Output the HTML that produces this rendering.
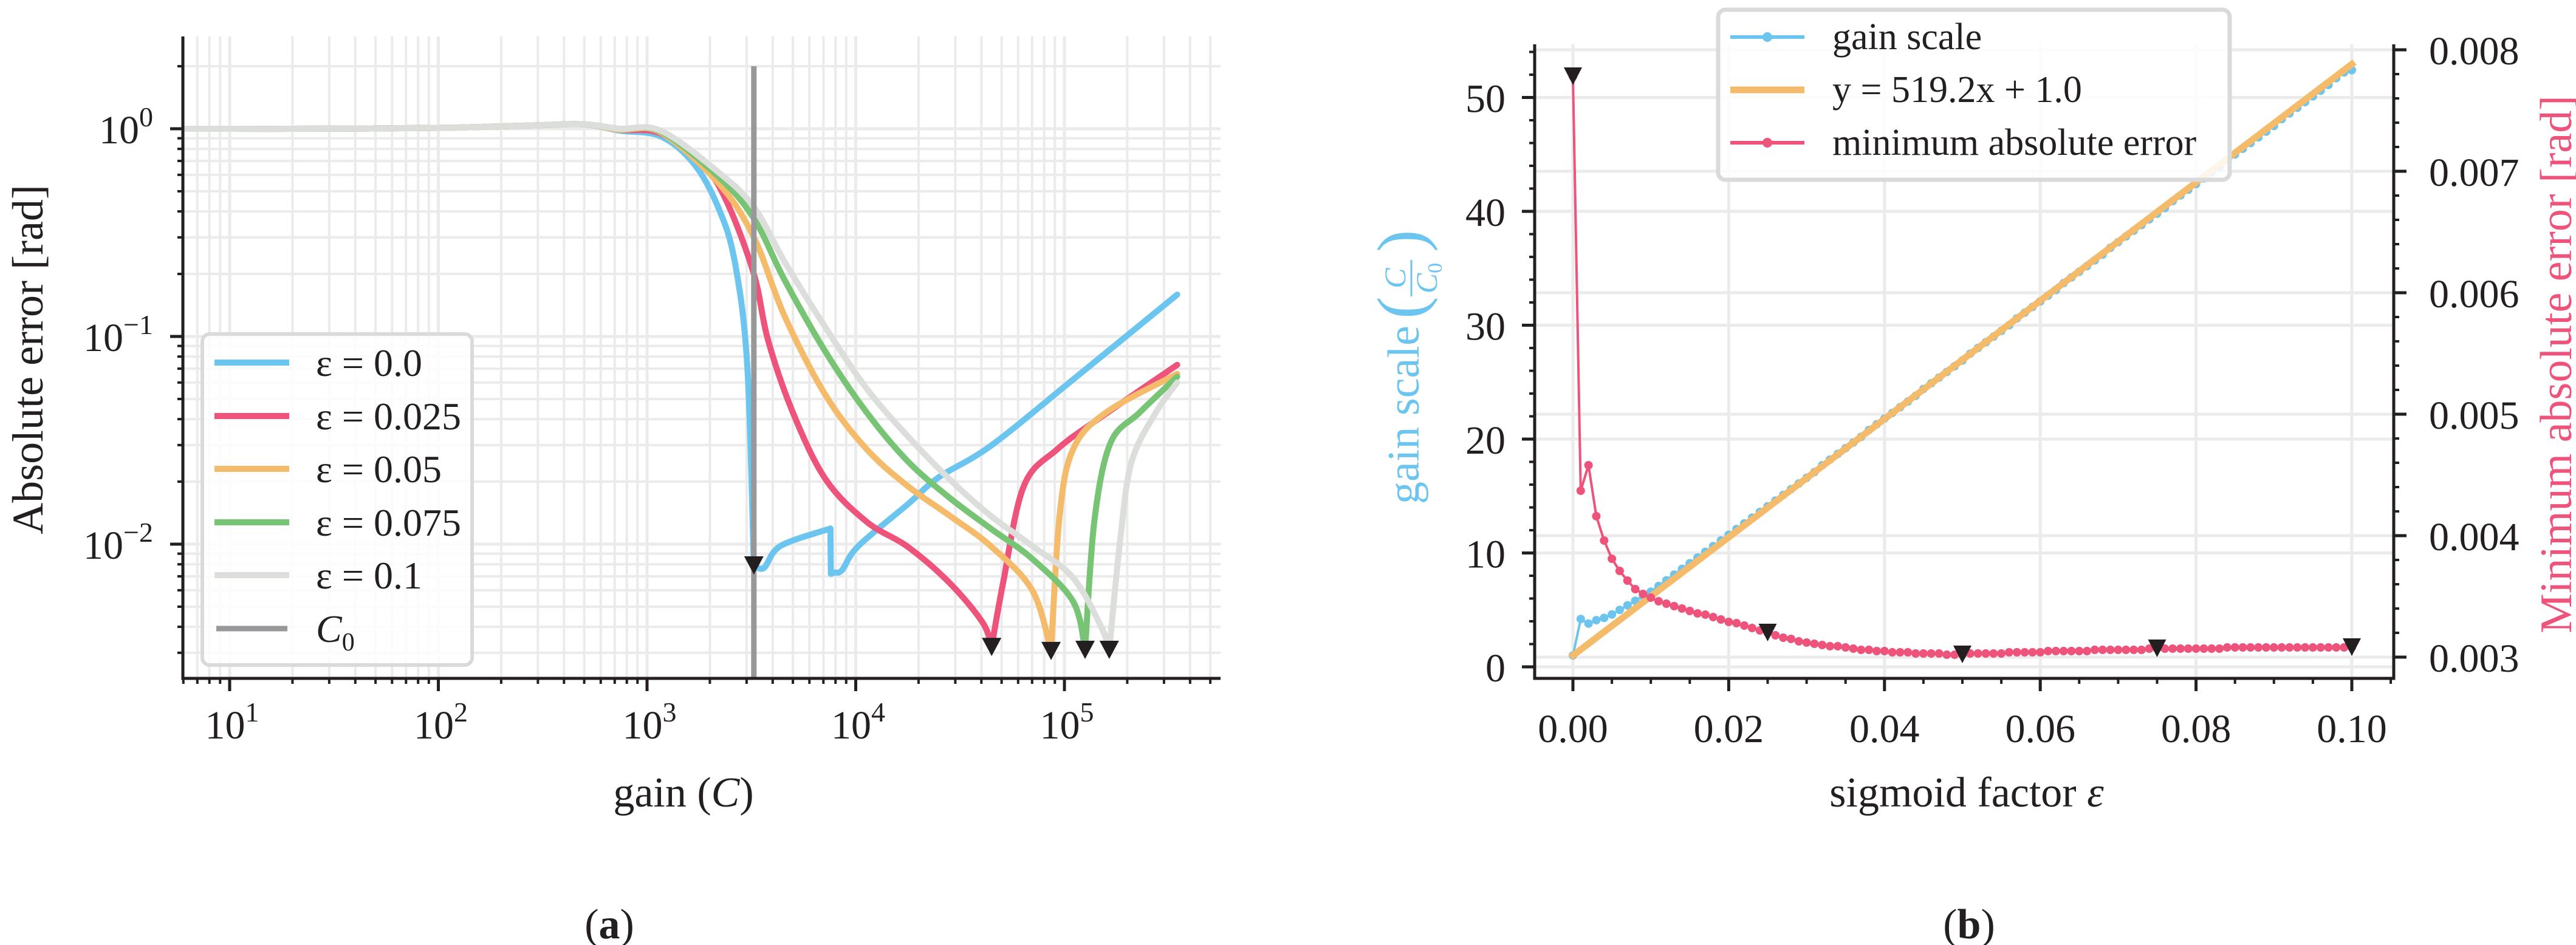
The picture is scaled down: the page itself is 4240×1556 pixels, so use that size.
<!DOCTYPE html>
<html><head><meta charset="utf-8"><style>
html,body{margin:0;padding:0;background:#fff;}
svg{display:block;font-family:"Liberation Serif",serif;}
</style></head><body>
<svg id="fig" width="4240" height="1556" viewBox="0 0 4240 1556" xmlns="http://www.w3.org/2000/svg">
<defs>
<clipPath id="clipL"><rect x="301" y="60" width="1708" height="1057"/></clipPath>
<clipPath id="clipR"><rect x="2526" y="73" width="1414" height="1044"/></clipPath>
</defs>
<g id="panelA"></g>
<g id="panelB"></g>
</svg>
<script>
// ---------- Panel (a) data ----------
const gainEps0 = [6,20,100,300,500,735,1160,1675,2190,2630,3020,3250,3251,3640,4360,7560,7600,7900,8600,10300,17800,25000,44300,110000,347000];
const errEps0  = [1.0,1.0,1.01,1.04,1.05,0.98,0.92,0.68,0.42,0.23,0.073,0.0079,0.0079,0.0077,0.0098,0.0119,0.0072,0.0073,0.0075,0.0098,0.0156,0.021,0.0297,0.062,0.159];
const gainEps025 = [6,20,100,300,500,735,1160,1830,2400,3250,3800,5000,7180,11300,17800,28200,40500,44800,50800,63800,92200,145000,347000];
const errEps025  = [1.0,1.0,1.01,1.04,1.05,0.99,0.95,0.68,0.45,0.2,0.096,0.043,0.0205,0.0128,0.0097,0.0065,0.0042,0.0032,0.0065,0.019,0.0286,0.040,0.073];
const gainEps05 = [6,20,100,300,500,735,1160,2190,3250,4550,7180,11300,17800,28200,44300,70100,86300,94800,110000,158000,347000];
const errEps05  = [1.0,1.0,1.01,1.04,1.05,0.99,0.96,0.55,0.30,0.126,0.052,0.0286,0.019,0.0137,0.0098,0.006,0.00306,0.0137,0.0286,0.043,0.066];
const gainEps075 = [6,20,100,300,500,735,1160,2190,3250,4550,7180,11300,17800,28200,44300,70100,110000,125600,139000,166000,229000,347000];
const errEps075  = [1.0,1.0,1.01,1.04,1.05,1.0,0.97,0.59,0.37,0.188,0.084,0.043,0.025,0.0167,0.0119,0.0085,0.0053,0.0031,0.0128,0.0306,0.043,0.064];
const gainEps1 = [6,20,100,300,500,735,1160,2190,3250,4550,7180,11300,17800,28200,44300,70100,110000,150000,164000,186000,210000,274000,347000];
const errEps1  = [1.0,1.0,1.01,1.04,1.05,1.0,0.98,0.62,0.42,0.23,0.11,0.056,0.033,0.0205,0.0137,0.0098,0.0069,0.0040,0.0031,0.011,0.025,0.043,0.06];
const breaksEps0 = [11,12,15,16];
const breaksEps025 = [17];
const breaksEps05 = [16];
const breaksEps075 = [17];
const breaksEps1 = [18];
const minGainA = [3250,44800,86300,125600,164000];
const minErrA  = [0.0079,0.0032,0.00306,0.0031,0.0031];
const c0Gain = 3250;
const c0Top = 2.0;
const legendLabelsA = ["ε = 0.0","ε = 0.025","ε = 0.05","ε = 0.075","ε = 0.1"];
const xTickExpA = [1,2,3,4,5];
const yTickExpA = [0,-1,-2];

// ---------- Panel (b) data ----------
const epsValues = [];
for (let i = 0; i <= 100; i++) epsValues.push(i/1000);
const gainScale = [1.0,4.2,3.8,4.1,4.3,4.6,5.0,5.4,5.8,6.2,6.6,7.1,7.6,8.1,8.6,9.1,9.6,10.1,10.6,11.1,11.6,12.1,12.6,13.1,13.6,14.1,14.6,15.1,15.6,16.1,16.6,17.1,17.7,18.2,18.7,19.2,19.7,20.2,20.8,21.3,21.8,22.3,22.8,23.3,23.8,24.4,24.9,25.4,25.9,26.4,26.9,27.5,28.0,28.5,29.0,29.5,30.0,30.6,31.1,31.6,32.1,32.6,33.1,33.7,34.2,34.7,35.2,35.7,36.2,36.8,37.3,37.8,38.3,38.8,39.3,39.8,40.3,40.9,41.4,41.9,42.4,42.9,43.4,43.9,44.5,45.0,45.5,46.0,46.5,47.0,47.5,48.1,48.6,49.1,49.6,50.1,50.6,51.1,51.7,52.2,52.4];
const minAbsErr = [0.00778,0.00437,0.00458,0.00416,0.00396,0.00381,0.00371,0.00363,0.00356,0.00352,0.00349,0.00346,0.00344,0.00342,0.00340,0.00338,0.00336,0.00335,0.00333,0.00331,0.00329,0.00328,0.00326,0.00324,0.00322,0.00320,0.00318,0.00316,0.00315,0.00313,0.00312,0.00311,0.00310,0.00309,0.00309,0.00308,0.00307,0.00306,0.00306,0.00305,0.00305,0.00304,0.00304,0.00304,0.00303,0.00303,0.00303,0.00303,0.00302,0.00302,0.00302,0.00303,0.00303,0.00303,0.00303,0.00303,0.00304,0.00304,0.00304,0.00304,0.00304,0.00305,0.00305,0.00305,0.00305,0.00305,0.00305,0.00306,0.00306,0.00306,0.00306,0.00306,0.00306,0.00306,0.00307,0.00307,0.00307,0.00307,0.00307,0.00307,0.00307,0.00307,0.00307,0.00307,0.00308,0.00308,0.00308,0.00308,0.00308,0.00308,0.00308,0.00308,0.00308,0.00308,0.00308,0.00308,0.00308,0.00308,0.00308,0.00308,0.00308];
const fitSlope = 519.2;
const fitIntercept = 1.0;
const markerEpsB = [0,0.025,0.05,0.075,0.1];
const markerErrB = [0.00778,0.00320,0.00302,0.00307,0.00308];
const xTicksB = [0,0.02,0.04,0.06,0.08,0.10];
const yTicksLeftB = [0,10,20,30,40,50];
const yTicksRightB = [0.003,0.004,0.005,0.006,0.007,0.008];

const NS = "http://www.w3.org/2000/svg";
function mk(tag, attrs, parent){ const e=document.createElementNS(NS,tag); for(const k in attrs) e.setAttribute(k,attrs[k]); parent.appendChild(e); return e; }

function smoothPath(pts, breaks){
  // split into segments at break indices, Catmull-Rom within each
  const segs=[]; let start=0;
  const bs=[...breaks].sort((a,b)=>a-b);
  for (const b of bs){ segs.push(pts.slice(start,b+1)); start=b; }
  segs.push(pts.slice(start));
  let d='';
  segs.forEach((s,si)=>{
    if (s.length<2) return;
    d += (si===0?'M':'L')+s[0][0].toFixed(1)+','+s[0][1].toFixed(1);
    for (let i=0;i<s.length-1;i++){
      const p0=s[i-1]||s[i], p1=s[i], p2=s[i+1], p3=s[i+2]||s[i+1];
      const t=1/6;
      const c1=[p1[0]+(p2[0]-p0[0])*t, p1[1]+(p2[1]-p0[1])*t];
      const c2=[p2[0]-(p3[0]-p1[0])*t, p2[1]-(p3[1]-p1[1])*t];
      d+=`C${c1[0].toFixed(1)},${c1[1].toFixed(1)} ${c2[0].toFixed(1)},${c2[1].toFixed(1)} ${p2[0].toFixed(1)},${p2[1].toFixed(1)}`;
    }
  });
  return d;
}

const COL = {blue:"#6cc5ef", red:"#ee537b", orange:"#f4bb6b", green:"#78c475", gray:"#dcdedb", c0:"#98989a", grid:"#ebebeb", ink:"#231f20"};

// ========== Panel A ==========
const A = document.getElementById('panelA');
const lx = g => 378 + (Math.log10(g)-1)*343.5;
const ly = v => 212 - Math.log10(v)*342;
const AL=301, AR=2009, AT=60, AB=1117;

const gridA = mk('g',{},A);


for (let d=0; d<=5; d++) for (let m=1; m<=9; m++){
  const g = m*Math.pow(10,d); const x = lx(g);
  if (x<AL||x>AR) continue;
  mk('line',{x1:x,x2:x,y1:AT,y2:AB,stroke:COL.grid,'stroke-width':m===1?5:4},gridA);
}
for (let d=-3; d<=0; d++) for (let m=1; m<=9; m++){
  const v = m*Math.pow(10,d); const y = ly(v);
  if (y<AT||y>AB) continue;
  mk('line',{x1:AL,x2:AR,y1:y,y2:y,stroke:COL.grid,'stroke-width':m===1?5:4},gridA);
}

const curvesA = [
  [gainEps0,errEps0,breaksEps0,COL.blue,'curve-eps-0'],
  [gainEps025,errEps025,breaksEps025,COL.red,'curve-eps-0025'],
  [gainEps05,errEps05,breaksEps05,COL.orange,'curve-eps-005'],
  [gainEps075,errEps075,breaksEps075,COL.green,'curve-eps-0075'],
  [gainEps1,errEps1,breaksEps1,COL.gray,'curve-eps-01'],
];
const plotA = mk('g',{'clip-path':'url(#clipL)'},A);
for (const [gs,es,br,c,n] of curvesA){
  const pts = gs.map((g,i)=>[lx(g),ly(es[i])]);
  const pl = mk('path',{d:smoothPath(pts,br),fill:'none',stroke:c,'stroke-width':10,'stroke-linejoin':'round','stroke-linecap':'round'},plotA);
  
  
}
const c0 = mk('line',{x1:lx(c0Gain),x2:lx(c0Gain),y1:ly(c0Top),y2:AB,stroke:COL.c0,'stroke-width':9},plotA);


minGainA.forEach((g,i)=>{
  const x=lx(g), y=ly(minErrA[i]);
  const t = mk('polygon',{points:`${x-16},${y-15} ${x+16},${y-15} ${x},${y+15}`,fill:COL.ink},plotA);
  
  
});

const spA = mk('g',{stroke:COL.ink,'stroke-width':5,fill:'none'},A);


mk('line',{x1:AL,x2:AL,y1:AT,y2:AB+2.5},spA);
mk('line',{x1:AL-2.5,x2:AR,y1:AB,y2:AB},spA);
for (let d=0; d<=5; d++) for (let m=1; m<=9; m++){
  const x = lx(m*Math.pow(10,d));
  if (x<AL||x>AR) continue;
  mk('line',{x1:x,x2:x,y1:AB,y2:AB+(m===1?21:9),'stroke-width':m===1?5:4},spA);
}
for (let d=-3; d<=0; d++) for (let m=1; m<=9; m++){
  const y = ly(m*Math.pow(10,d));
  if (y<AT||y>AB) continue;
  mk('line',{x1:AL,x2:AL-(m===1?21:9),y1:y,y2:y,'stroke-width':m===1?5:4},spA);
}
xTickExpA.forEach(e=>{
  const t = mk('text',{x:lx(Math.pow(10,e))+4,y:1216,'font-size':66,'text-anchor':'middle',fill:COL.ink},A);
  
  
  t.appendChild(document.createTextNode('10'));
  const s = mk('tspan',{'font-size':46,dy:-28},t); s.textContent=String(e);
});
yTickExpA.forEach(e=>{
  const t = mk('text',{x:252,y:ly(Math.pow(10,e))+24,'font-size':66,'text-anchor':'end',fill:COL.ink},A);
  
  
  t.appendChild(document.createTextNode('10'));
  const s = mk('tspan',{'font-size':46,dy:-28},t); s.textContent=(e<0?'−':'')+Math.abs(e);
});
let tt = mk('text',{x:1125,y:1328,'font-size':70,'text-anchor':'middle',fill:COL.ink},A);


tt.innerHTML='gain (<tspan font-style="italic">C</tspan>)';
tt = mk('text',{x:0,y:0,'font-size':72,'text-anchor':'middle',fill:COL.ink,transform:'translate(70,592) rotate(-90)'},A);


tt.textContent='Absolute error [rad]';
tt = mk('text',{x:1003,y:1545,'font-size':70,'text-anchor':'middle',fill:COL.ink},A);


tt.innerHTML='(<tspan font-weight="bold">a</tspan>)';

const lgA = mk('g',{},A);


mk('rect',{x:333,y:550,width:444,height:545,rx:12,fill:'#fff','fill-opacity':0.85,stroke:'#d9dadb','stroke-width':6},lgA);
const legColsA=[COL.blue,COL.red,COL.orange,COL.green,COL.gray];
const legY=[597,685,772,860,947,1035];
legendLabelsA.forEach((lab,i)=>{
  const g = mk('g',{},lgA);
  
  
  mk('line',{x1:353,x2:476,y1:legY[i],y2:legY[i],stroke:legColsA[i],'stroke-width':10},g);
  const t=mk('text',{x:520,y:legY[i]+22,'font-size':64,fill:COL.ink},g); t.textContent=lab;
});
{
  const g = mk('g',{},lgA);
  
  
  mk('line',{x1:356,x2:473,y1:legY[5],y2:legY[5],stroke:COL.c0,'stroke-width':9},g);
  const t=mk('text',{x:520,y:legY[5]+22,'font-size':64,fill:COL.ink},g);
  t.innerHTML='<tspan font-style="italic">C</tspan><tspan font-size="42" dy="14">0</tspan>';
}

// ========== Panel B ==========
const B = document.getElementById('panelB');
const rx = e => 2589 + e*12820;
const ryL = v => 1098 - v*18.75;
const ryR = v => 1082 - (v-0.003)*200000;
const BL=2526, BR=3940, BT=73, BB=1117;

const gridB = mk('g',{stroke:COL.grid,'stroke-width':5},B);


xTicksB.forEach(v=>mk('line',{x1:rx(v),x2:rx(v),y1:BT,y2:BB},gridB));
yTicksLeftB.forEach(v=>mk('line',{x1:BL,x2:BR,y1:ryL(v),y2:ryL(v)},gridB));
yTicksRightB.forEach(v=>mk('line',{x1:BL,x2:BR,y1:ryR(v),y2:ryR(v)},gridB));

const plotB = mk('g',{'clip-path':'url(#clipR)'},B);
{
  const pts = epsValues.map((e,i)=>rx(e).toFixed(1)+','+ryL(gainScale[i]).toFixed(1)).join(' ');
  const pl = mk('polyline',{points:pts,fill:'none',stroke:COL.blue,'stroke-width':4},plotB);
  
  
  epsValues.forEach((e,i)=>{
    const c = mk('circle',{cx:rx(e),cy:ryL(gainScale[i]),r:7,fill:COL.blue},plotB);
    
    
  });
}
{
  const x0=epsValues[0], x1=epsValues[epsValues.length-1];
  const l = mk('line',{x1:rx(x0),y1:ryL(fitSlope*x0+fitIntercept),x2:rx(x1),y2:ryL(fitSlope*x1+fitIntercept),stroke:COL.orange,'stroke-width':11,'stroke-linecap':'square'},plotB);
  
  
}
{
  const pts = epsValues.map((e,i)=>rx(e).toFixed(1)+','+ryR(minAbsErr[i]).toFixed(1)).join(' ');
  const pl = mk('polyline',{points:pts,fill:'none',stroke:COL.red,'stroke-width':4},plotB);
  
  
  epsValues.forEach((e,i)=>{
    const c = mk('circle',{cx:rx(e),cy:ryR(minAbsErr[i]),r:7,fill:COL.red},plotB);
    
    
  });
  markerEpsB.forEach((e,i)=>{
    const x=rx(e), y=ryR(markerErrB[i]);
    const t = mk('polygon',{points:`${x-15},${y-15} ${x+15},${y-15} ${x},${y+14}`,fill:COL.ink},plotB);
    
    
  });
}
const spB = mk('g',{stroke:COL.ink,'stroke-width':5,fill:'none'},B);


mk('line',{x1:BL,x2:BL,y1:BT,y2:BB+2.5},spB);
mk('line',{x1:BR,x2:BR,y1:BT,y2:BB+2.5},spB);
mk('line',{x1:BL-2.5,x2:BR+2.5,y1:BB,y2:BB},spB);
for (let k=-1; k<=21; k++){
  const v=k*0.005; const x=rx(v); if (x<BL-1||x>BR+1) continue;
  const maj = k%4===0;
  mk('line',{x1:x,x2:x,y1:BB,y2:BB+(maj?21:9),'stroke-width':maj?5:4},spB);
}
for (let k=0; k<=27; k++){
  const v=k*2; const y=ryL(v); if (y<BT||y>BB) continue;
  const maj = k%5===0;
  mk('line',{x1:BL,x2:BL-(maj?21:9),y1:y,y2:y,'stroke-width':maj?5:4},spB);
}
for (let k=14; k<=40; k++){
  const v=k*0.0002; const y=ryR(v); if (y<BT||y>BB) continue;
  const maj = k%5===0;
  mk('line',{x1:BR,x2:BR+(maj?21:9),y1:y,y2:y,'stroke-width':maj?5:4},spB);
}
xTicksB.forEach(v=>{
  const t=mk('text',{x:rx(v),y:1222,'font-size':66,'text-anchor':'middle',fill:COL.ink},B);
  
  
  t.textContent=v.toFixed(2);
});
yTicksLeftB.forEach(v=>{
  const t=mk('text',{x:2478,y:ryL(v)+24,'font-size':66,'text-anchor':'end',fill:COL.ink},B);
  
  
  t.textContent=String(v);
});
yTicksRightB.forEach(v=>{
  const t=mk('text',{x:3998,y:ryR(v)+24,'font-size':66,'text-anchor':'start',fill:COL.ink},B);
  
  
  t.textContent=v.toFixed(3);
});
tt = mk('text',{x:3237,y:1328,'font-size':70,'text-anchor':'middle',fill:COL.ink},B);


tt.innerHTML='sigmoid factor <tspan font-style="italic">ε</tspan>';
tt = mk('text',{x:3241,y:1545,'font-size':70,'text-anchor':'middle',fill:COL.ink},B);


tt.innerHTML='(<tspan font-weight="bold">b</tspan>)';
{
  const g = mk('g',{transform:'translate(2335,605) rotate(-90)',fill:COL.blue},B);
  
  
  const t1=mk('text',{x:-225,y:0,'font-size':74,'text-anchor':'start'},g); t1.textContent='gain scale';
  const p1=mk('text',{x:80,y:8,'font-size':110},g); p1.textContent='(';
  const n=mk('text',{x:147,y:-22,'font-size':50,'text-anchor':'middle','font-style':'italic'},g); n.textContent='C';
  mk('line',{x1:117,x2:177,y1:-12,y2:-12,stroke:COL.blue,'stroke-width':3},g);
  const dd=mk('text',{x:147,y:30,'font-size':50,'text-anchor':'middle'},g);
  dd.innerHTML='<tspan font-style="italic">C</tspan><tspan font-size="34" dy="8">0</tspan>';
  const p2=mk('text',{x:190,y:8,'font-size':110},g); p2.textContent=')';
}
tt = mk('text',{x:0,y:0,'font-size':74,'text-anchor':'middle',fill:COL.red,transform:'translate(4232,600) rotate(-90)'},B);


tt.textContent='Minimum absolute error [rad]';

const lgB = mk('g',{},B);


mk('rect',{x:2828,y:16,width:842,height:280,rx:12,fill:'#fff','fill-opacity':0.85,stroke:'#d9dadb','stroke-width':7},lgB);
const legB=[["gain scale",COL.blue,4,true],["y = 519.2x + 1.0",COL.orange,11,false],["minimum absolute error",COL.red,4,true]];
const legBY=[61,148,235];
legB.forEach((L,i)=>{
  const g = mk('g',{},lgB);
  
  
  mk('line',{x1:2848,x2:2970,y1:legBY[i],y2:legBY[i],stroke:L[1],'stroke-width':L[2]+(L[3]?2:0)},g);
  if (L[3]) mk('circle',{cx:2909,cy:legBY[i],r:8,fill:L[1]},g);
  const t=mk('text',{x:3016,y:legBY[i]+20,'font-size':62,fill:COL.ink},g); t.textContent=L[0];
});
</script>
</body></html>
